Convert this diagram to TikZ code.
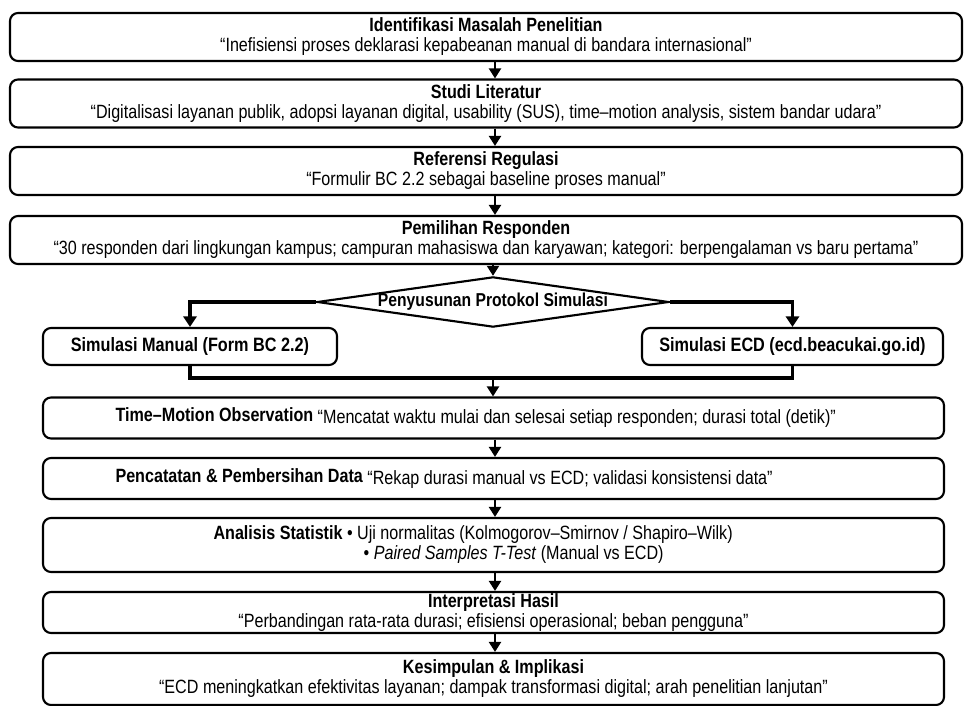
\documentclass[tikz,border=0pt]{standalone}
\usepackage{fontspec}
\setmainfont{Liberation Sans}[FakeStretch=0.84]
\usetikzlibrary{arrows.meta,shapes.geometric}

\tikzset{
  stagebox/.style={draw,line width=1.6pt,rounded corners=6pt,align=center,inner sep=0pt,font=\fontsize{14.4}{15}\selectfont},
  topbox/.style={stagebox,minimum width=714pt,minimum height=36pt},
  lowbox/.style={stagebox,minimum width=675.75pt,minimum height=30.75pt},
  leftbox/.style={lowbox,align=flush left,text width=#1,inner xsep=0.5*675.75pt-0.5*#1},
  simbox/.style={draw,line width=1.6pt,rounded corners=6pt,minimum height=27.75pt,font=\bfseries\fontsize{14.5}{15}\selectfont},
  flow/.style={line width=1.6pt,-{Triangle[width=9pt,length=7.5pt]}},
  branch/.style={line width=2.8pt}
}

\begin{document}
\begin{tikzpicture}[x=0.75pt,y=-0.75pt]
\useasboundingbox (0,0) rectangle (967,706);
% research stages
\node[topbox] (idm) at (486,37) {\textbf{Identifikasi Masalah Penelitian}\\“Inefisiensi proses deklarasi kepabeanan manual di bandara internasional”};
\node[topbox] (lit) at (486,103.5) {\textbf{Studi Literatur}\\“Digitalisasi layanan publik, adopsi layanan digital, usability (SUS), time–motion analysis, sistem bandar udara”};
\node[topbox] (reg) at (486,171) {\textbf{Referensi Regulasi}\\“Formulir BC 2.2 sebagai baseline proses manual”};
\node[topbox] (res) at (486,240) {\textbf{Pemilihan Responden}\\“30 responden dari lingkungan kampus; campuran mahasiswa dan karyawan; kategori: berpengalaman vs baru pertama”};
\node[draw,shape=diamond,aspect=7,minimum width=263pt,minimum height=36.75pt,inner sep=0pt,line width=1.6pt,font=\bfseries\fontsize{14}{14}\selectfont] (psp) at (493,302) {Penyusunan Protokol Simulasi};
\node[simbox,minimum width=220.5pt] (man) at (190,346.5) {Simulasi Manual (Form BC 2.2)};
\node[simbox,minimum width=225.75pt] (ecd) at (792.5,346.5) {Simulasi ECD (ecd.beacukai.go.id)};
\node[leftbox=567pt] (tmo) at (493.5,418) {\raisebox{1.5pt}{\textbf{Time–Motion Observation}}\ “Mencatat waktu mulai dan selesai setiap responden; durasi total (detik)”};
\node[leftbox=567pt] (pcd) at (493.5,478.5) {\raisebox{1.5pt}{\textbf{Pencatatan \& Pembersihan Data}}\ “Rekap durasi manual vs ECD; validasi konsistensi data”};
\node[leftbox=420pt,minimum height=40.5pt] (ans) at (493.5,545) {\textbf{Analisis Statistik}\ \begin{tabular}[t]{@{}l@{}}• Uji normalitas (Kolmogorov–Smirnov / Shapiro–Wilk)\\\hspace*{12.5pt}• \textit{Paired Samples T-Test} (Manual vs ECD)\end{tabular}};
\node[lowbox] (itp) at (493.5,612.5) {\textbf{Interpretasi Hasil}\\“Perbandingan rata-rata durasi; efisiensi operasional; beban pengguna”};
\node[lowbox,minimum height=39pt] (ksi) at (493.5,679) {\textbf{Kesimpulan \& Implikasi}\\“ECD meningkatkan efektivitas layanan; dampak transformasi digital; arah penelitian lanjutan”};

\coordinate (axis) at (495,0);
\coordinate (mrg) at (493,378);
\draw[flow] (idm.south -| axis) -- (lit.north -| axis);
\draw[flow] (lit.south -| axis) -- (reg.north -| axis);
\draw[flow] (reg.south -| axis) -- (res.north -| axis);
\draw[flow] (res.south -| psp.north) -- (psp.north);
% branches
\draw[branch,-{Triangle[width=10pt,length=8pt]}] (psp.west) -| (man.north);
\draw[branch,-{Triangle[width=10pt,length=8pt]}] (psp.east) -| (ecd.north);
\draw[branch] (man.south) |- (mrg) -| (ecd.south);
\draw[flow] (mrg) -- (tmo.north -| mrg);
\draw[flow] (tmo.south -| axis) -- (pcd.north -| axis);
\draw[flow] (pcd.south -| axis) -- (ans.north -| axis);
\draw[flow] (ans.south -| axis) -- (itp.north -| axis);
\draw[flow] (itp.south -| axis) -- (ksi.north -| axis);
\end{tikzpicture}
\end{document}
